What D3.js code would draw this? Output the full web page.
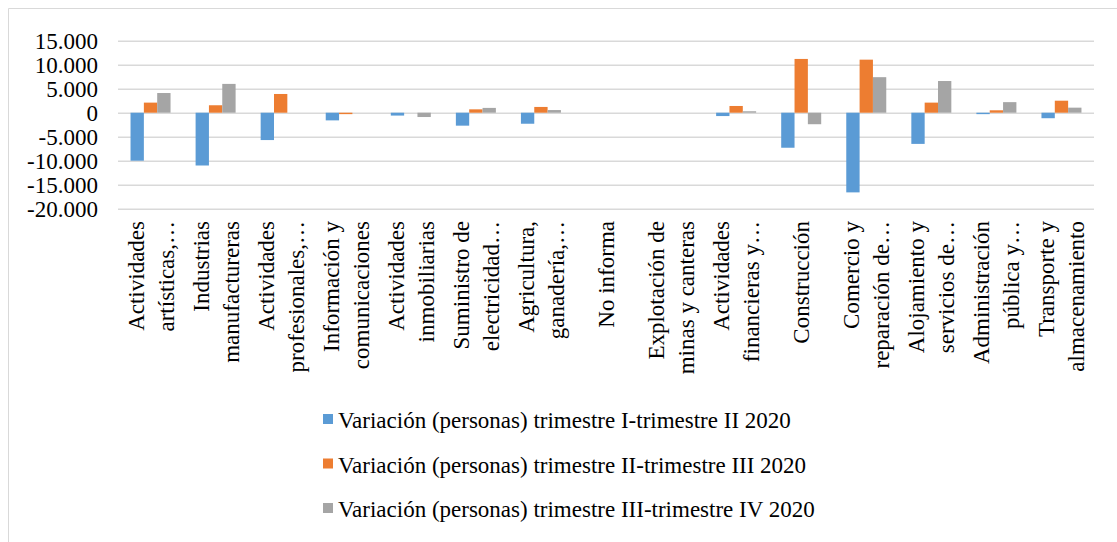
<!DOCTYPE html>
<html>
<head>
<meta charset="utf-8">
<script src="https://cdn.jsdelivr.net/npm/d3@7"></script>
<style>
  body { margin: 0; background: #fff; }
  svg text { font-family: 'Liberation Serif', 'Times New Roman', serif; fill: #000; }
</style>
</head>
<body>
<div id="divChart"></div>
<script>
// category labels, already split into the lines shown under each group
var categories = [
  ['Actividades', 'artísticas,…'],
  ['Industrias', 'manufactureras'],
  ['Actividades', 'profesionales,…'],
  ['Información y', 'comunicaciones'],
  ['Actividades', 'inmobiliarias'],
  ['Suministro de', 'electricidad…'],
  ['Agricultura,', 'ganadería,…'],
  ['No informa'],
  ['Explotación de', 'minas y canteras'],
  ['Actividades', 'financieras y…'],
  ['Construcción'],
  ['Comercio y', 'reparación de…'],
  ['Alojamiento y', 'servicios de…'],
  ['Administración', 'pública y…'],
  ['Transporte y', 'almacenamiento']
]

var seriesNames = [
  'Variación (personas) trimestre I-trimestre II 2020',
  'Variación (personas) trimestre II-trimestre III 2020',
  'Variación (personas) trimestre III-trimestre IV 2020'
]

// values
var varI_II = [-10000, -11000, -5700, -1600, -600, -2700, -2300, 0, 0, -700, -7300, -16600, -6500, -300, -1150]
var varII_III = [2100, 1550, 3900, -300, 0, 700, 1200, 0, 0, 1400, 11200, 11050, 2100, 500, 2500]
var varIII_IV = [4100, 6000, 0, 0, -900, 1000, 550, 0, 0, 300, -2400, 7400, 6600, 2200, 1050]

var yTicks = [-20000, -15000, -10000, -5000, 0, 5000, 10000, 15000]

var colors = ['#5b9bd5', '#ed7d31', '#a5a5a5']

var chart = {}
chart.width = 1117
chart.height = 542
chart.left = 118
chart.right = 1094
chart.top = 40.7
chart.bottom = 208.7
chart.fontSize = 23

var esLocale = d3.formatLocale({ decimal: ',', thousands: '.', grouping: [3], currency: ['', ''], minus: '-' })
var fmt = esLocale.format(',')

var svg = d3.select('#divChart')
  .append('svg')
  .attr('width', chart.width)
  .attr('height', chart.height)

// outer frame (only top and left edges are visible in the crop)
svg.append('path')
  .attr('d', 'M8.5,' + chart.height + 'V8.5H' + chart.width)
  .attr('fill', 'none')
  .attr('stroke', '#d9d9d9')
  .attr('stroke-width', 1)

var keys = categories.map(function (d, i) { return i })
var x0 = d3.scaleBand().domain(keys).range([chart.left, chart.right]).padding(0)
var x1 = d3.scaleBand().domain([0, 1, 2]).range([0, x0.bandwidth()]).paddingInner(0).paddingOuter(0.94)
var y = d3.scaleLinear().domain([-20000, 15000]).range([chart.bottom, chart.top])

// gridlines + tick labels
var yAxis = d3.axisLeft(y).tickValues(yTicks).tickFormat(fmt)
  .tickSize(-(chart.right - chart.left)).tickPadding(20)
var gAxis = svg.append('g')
  .attr('transform', 'translate(' + chart.left + ',0)')
  .call(yAxis)
gAxis.select('.domain').remove()
gAxis.selectAll('.tick line').attr('stroke', '#d9d9d9').attr('stroke-width', 1.5)
gAxis.selectAll('.tick text')
  .attr('font-size', chart.fontSize)
  .attr('font-family', "'Liberation Serif', serif")
  .attr('fill', '#000')

// bars
var data = keys.map(function (i) {
  return [varI_II[i], varII_III[i], varIII_IV[i]]
})
var groups = svg.append('g').selectAll('g')
  .data(data)
  .enter()
  .append('g')
  .attr('transform', function (d, i) { return 'translate(' + x0(i) + ',0)' })
groups.selectAll('rect')
  .data(function (d) { return d })
  .enter()
  .append('rect')
  .attr('x', function (d, j) { return x1(j) })
  .attr('width', x1.bandwidth())
  .attr('y', function (d) { return y(Math.max(0, d)) })
  .attr('height', function (d) { return Math.abs(y(d) - y(0)) })
  .attr('fill', function (d, j) { return colors[j] })

// category labels, rotated
var lineGap = 30
var labels = svg.append('g').selectAll('g')
  .data(categories)
  .enter()
  .append('g')
labels.each(function (lines, i) {
  var cx = x0(i) + x0.bandwidth() / 2
  var n = lines.length
  d3.select(this).selectAll('text')
    .data(lines)
    .enter()
    .append('text')
    .text(function (d) { return d })
    .attr('font-size', chart.fontSize)
    .attr('text-anchor', 'end')
    .attr('transform', function (d, k) {
      var lx = cx + (k - (n - 1) / 2) * lineGap + 8
      return 'translate(' + lx + ',221) rotate(-90)'
    })
})

// legend
var legend = svg.append('g').selectAll('g')
  .data(seriesNames)
  .enter()
  .append('g')
  .attr('transform', function (d, i) { return 'translate(323,' + (428 + i * 44.5) + ')' })
legend.append('rect')
  .attr('x', 0)
  .attr('y', -14)
  .attr('width', 10)
  .attr('height', 10)
  .attr('fill', function (d, i) { return colors[i] })
legend.append('text')
  .attr('x', 15)
  .attr('y', 0)
  .attr('font-size', chart.fontSize)
  .text(function (d) { return d })
</script>
</body>
</html>
